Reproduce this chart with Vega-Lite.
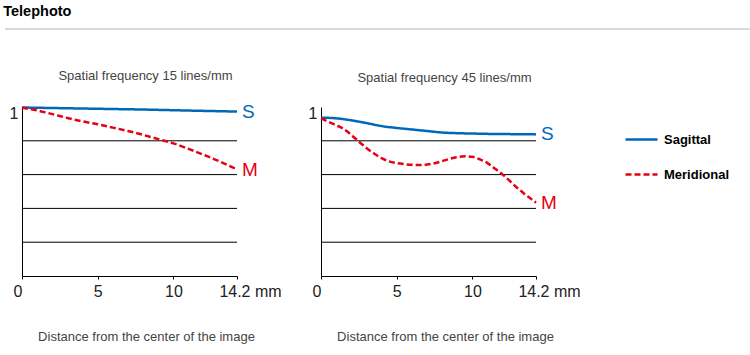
{
  "$schema": "https://vega.github.io/schema/vega-lite/v6.json",
  "background": "white",
  "padding": {"left": 3, "top": 3, "right": 5, "bottom": 5},
  "config": {
    "font": "Liberation Sans",
    "view": {"stroke": null},
    "legend": {
      "orient": "none",
      "legendX": 602,
      "legendY": 94,
      "symbolType": "stroke",
      "symbolSize": 1024,
      "symbolStrokeWidth": 2.5,
      "labelFontSize": 13,
      "labelFontWeight": "bold",
      "labelColor": "#000",
      "labelOffset": 5,
      "rowPadding": 10
    }
  },
  "datasets": {
    "f15": [
      {"series": "Sagittal", "x": 0, "y": 0.997},
      {"series": "Sagittal", "x": 2, "y": 0.994},
      {"series": "Sagittal", "x": 4, "y": 0.991},
      {"series": "Sagittal", "x": 6, "y": 0.988},
      {"series": "Sagittal", "x": 8, "y": 0.985},
      {"series": "Sagittal", "x": 10, "y": 0.981},
      {"series": "Sagittal", "x": 12, "y": 0.977},
      {"series": "Sagittal", "x": 14.2, "y": 0.973},
      {"series": "Meridional", "x": 0, "y": 0.996},
      {"series": "Meridional", "x": 1, "y": 0.98},
      {"series": "Meridional", "x": 2, "y": 0.958},
      {"series": "Meridional", "x": 3, "y": 0.935},
      {"series": "Meridional", "x": 4, "y": 0.915},
      {"series": "Meridional", "x": 5, "y": 0.898},
      {"series": "Meridional", "x": 6, "y": 0.878},
      {"series": "Meridional", "x": 7, "y": 0.858},
      {"series": "Meridional", "x": 8, "y": 0.835},
      {"series": "Meridional", "x": 9, "y": 0.81},
      {"series": "Meridional", "x": 10, "y": 0.785},
      {"series": "Meridional", "x": 11, "y": 0.752},
      {"series": "Meridional", "x": 12, "y": 0.717},
      {"series": "Meridional", "x": 13, "y": 0.68},
      {"series": "Meridional", "x": 14.2, "y": 0.63}
    ],
    "f45": [
      {"series": "Sagittal", "x": 0, "y": 0.937},
      {"series": "Sagittal", "x": 1, "y": 0.933},
      {"series": "Sagittal", "x": 2, "y": 0.921},
      {"series": "Sagittal", "x": 3, "y": 0.905},
      {"series": "Sagittal", "x": 4, "y": 0.887},
      {"series": "Sagittal", "x": 5, "y": 0.876},
      {"series": "Sagittal", "x": 6, "y": 0.867},
      {"series": "Sagittal", "x": 7, "y": 0.858},
      {"series": "Sagittal", "x": 8, "y": 0.849},
      {"series": "Sagittal", "x": 9, "y": 0.845},
      {"series": "Sagittal", "x": 10, "y": 0.843},
      {"series": "Sagittal", "x": 11, "y": 0.841},
      {"series": "Sagittal", "x": 12, "y": 0.84},
      {"series": "Sagittal", "x": 13, "y": 0.839},
      {"series": "Sagittal", "x": 14.2, "y": 0.838},
      {"series": "Meridional", "x": 0, "y": 0.933},
      {"series": "Meridional", "x": 0.8, "y": 0.9},
      {"series": "Meridional", "x": 1.5, "y": 0.87},
      {"series": "Meridional", "x": 2, "y": 0.835},
      {"series": "Meridional", "x": 2.5, "y": 0.795},
      {"series": "Meridional", "x": 3, "y": 0.758},
      {"series": "Meridional", "x": 3.5, "y": 0.725},
      {"series": "Meridional", "x": 4, "y": 0.697},
      {"series": "Meridional", "x": 4.5, "y": 0.678},
      {"series": "Meridional", "x": 5, "y": 0.668},
      {"series": "Meridional", "x": 5.5, "y": 0.662},
      {"series": "Meridional", "x": 6, "y": 0.658},
      {"series": "Meridional", "x": 6.5, "y": 0.657},
      {"series": "Meridional", "x": 7, "y": 0.66},
      {"series": "Meridional", "x": 7.5, "y": 0.667},
      {"series": "Meridional", "x": 8, "y": 0.679},
      {"series": "Meridional", "x": 8.5, "y": 0.693},
      {"series": "Meridional", "x": 9, "y": 0.703},
      {"series": "Meridional", "x": 9.5, "y": 0.708},
      {"series": "Meridional", "x": 10, "y": 0.705},
      {"series": "Meridional", "x": 10.5, "y": 0.69},
      {"series": "Meridional", "x": 11, "y": 0.668},
      {"series": "Meridional", "x": 11.5, "y": 0.635},
      {"series": "Meridional", "x": 12, "y": 0.6},
      {"series": "Meridional", "x": 12.5, "y": 0.56},
      {"series": "Meridional", "x": 13, "y": 0.518},
      {"series": "Meridional", "x": 13.5, "y": 0.482},
      {"series": "Meridional", "x": 14.2, "y": 0.434}
    ],
    "e15": [
      {"series": "Sagittal", "x": 14.2, "y": 0.973, "label": "S"},
      {"series": "Meridional", "x": 14.2, "y": 0.63, "label": "M"}
    ],
    "e45": [
      {"series": "Sagittal", "x": 14.2, "y": 0.838, "label": "S"},
      {"series": "Meridional", "x": 14.2, "y": 0.434, "label": "M"}
    ],
    "grid": [{"g": 0.2}, {"g": 0.4}, {"g": 0.6}, {"g": 0.8}],
    "header": [{"from": -17, "to": 729}]
  },
  "columns": 1,
  "align": "none",
  "spacing": 39,
  "concat": [
    {
      "width": 729,
      "height": 1,
      "title": {"text": "Telephoto", "anchor": "start", "fontSize": 14.5, "fontWeight": "bold", "color": "#000", "offset": 9, "dx": -1},
      "data": {"name": "header"},
      "mark": {"type": "rule", "color": "#cccccc", "strokeWidth": 1.5},
      "encoding": {
        "x": {"field": "from", "type": "quantitative", "axis": null, "scale": {"domain": [0, 729], "nice": false, "zero": false}},
        "x2": {"field": "to"},
        "y": {"datum": 0, "type": "quantitative", "axis": null, "scale": {"domain": [0, 1]}}
      }
    },
    {
      "hconcat": [
        {
          "width": 215,
          "height": 169,
          "title": {"text": "Spatial frequency 15 lines/mm", "fontSize": 13, "fontWeight": "normal", "color": "#444", "dx": 16, "offset": 20},
          "layer": [
            {
              "data": {"name": "grid"},
              "mark": {"type": "rule", "color": "#000", "strokeWidth": 1},
              "encoding": {"y": {"field": "g", "type": "quantitative"}}
            },
            {
              "data": {"name": "f15"},
              "mark": {"type": "line", "strokeWidth": 2.5, "interpolate": "monotone"},
              "encoding": {
                "x": {"field": "x", "type": "quantitative", "scale": {"domain": [0, 14.2], "nice": false},
                  "axis": {
                    "values": [0, 5, 10, 14.2],
                    "labelExpr": "datum.value == 14.2 ? '14.2 mm' : datum.label",
                    "labelFlush": false, "labelOverlap": false,
                    "labelAlign": {"condition": {"test": "datum.value == 0", "value": "right"}, "value": "center"},
                    "labelOffset": {"condition": {"test": "datum.value == 14.2", "value": 13}, "value": 0},
                    "labelFontSize": 16, "labelColor": "#222", "labelPadding": 4,
                    "tickSize": 3, "tickColor": "#000", "domainColor": "#000", "grid": false,
                    "title": "Distance from the center of the image",
                    "titleFontSize": 13, "titleFontWeight": "normal", "titleColor": "#444",
                    "titleX": 124, "titleY": 60, "titleBaseline": "middle"
                  }},
                "y": {"field": "y", "type": "quantitative", "scale": {"domain": [0, 1], "nice": false},
                  "axis": {
                    "values": [1],
                    "labelExpr": "'1'",
                    "labelFlush": false, "labelOverlap": false,
                    "labelFontSize": 16, "labelColor": "#222", "labelPadding": 4, "labelOffset": 6,
                    "ticks": false, "tickSize": 0, "domainColor": "#000",
                    "grid": false,
                    "title": null
                  }},
                "color": {"field": "series", "type": "nominal", "scale": {"domain": ["Sagittal", "Meridional"], "range": ["#0068b7", "#e60012"]}, "legend": {"title": null}},
                "strokeDash": {"field": "series", "type": "nominal", "scale": {"domain": ["Sagittal", "Meridional"], "range": [[1, 0], [6, 3]]}, "legend": {"title": null}}
              }
            },
            {
              "data": {"name": "e15"},
              "mark": {"type": "text", "align": "left", "baseline": "middle", "dx": 5, "fontSize": 19},
              "encoding": {
                "x": {"field": "x", "type": "quantitative"},
                "y": {"field": "y", "type": "quantitative"},
                "text": {"field": "label"},
                "color": {"field": "series", "type": "nominal", "legend": null}
              }
            }
          ]
        },
        {
          "width": 215,
          "height": 169,
          "title": {"text": "Spatial frequency 45 lines/mm", "fontSize": 13, "fontWeight": "normal", "color": "#444", "dx": 16, "offset": 20},
          "layer": [
            {
              "data": {"name": "grid"},
              "mark": {"type": "rule", "color": "#000", "strokeWidth": 1},
              "encoding": {"y": {"field": "g", "type": "quantitative"}}
            },
            {
              "data": {"name": "f45"},
              "mark": {"type": "line", "strokeWidth": 2.5, "interpolate": "monotone"},
              "encoding": {
                "x": {"field": "x", "type": "quantitative", "scale": {"domain": [0, 14.2], "nice": false},
                  "axis": {
                    "values": [0, 5, 10, 14.2],
                    "labelExpr": "datum.value == 14.2 ? '14.2 mm' : datum.label",
                    "labelFlush": false, "labelOverlap": false,
                    "labelAlign": {"condition": {"test": "datum.value == 0", "value": "right"}, "value": "center"},
                    "labelOffset": {"condition": {"test": "datum.value == 14.2", "value": 13}, "value": 0},
                    "labelFontSize": 16, "labelColor": "#222", "labelPadding": 4,
                    "tickSize": 3, "tickColor": "#000", "domainColor": "#000", "grid": false,
                    "title": "Distance from the center of the image",
                    "titleFontSize": 13, "titleFontWeight": "normal", "titleColor": "#444",
                    "titleX": 124, "titleY": 60, "titleBaseline": "middle"
                  }},
                "y": {"field": "y", "type": "quantitative", "scale": {"domain": [0, 1], "nice": false},
                  "axis": {
                    "values": [1],
                    "labelExpr": "'1'",
                    "labelFlush": false, "labelOverlap": false,
                    "labelFontSize": 16, "labelColor": "#222", "labelPadding": 4, "labelOffset": 6,
                    "ticks": false, "tickSize": 0, "domainColor": "#000",
                    "grid": false,
                    "title": null
                  }},
                "color": {"field": "series", "type": "nominal", "scale": {"domain": ["Sagittal", "Meridional"], "range": ["#0068b7", "#e60012"]}, "legend": {"title": null}},
                "strokeDash": {"field": "series", "type": "nominal", "scale": {"domain": ["Sagittal", "Meridional"], "range": [[1, 0], [6, 3]]}, "legend": {"title": null}}
              }
            },
            {
              "data": {"name": "e45"},
              "mark": {"type": "text", "align": "left", "baseline": "middle", "dx": 5, "fontSize": 19},
              "encoding": {
                "x": {"field": "x", "type": "quantitative"},
                "y": {"field": "y", "type": "quantitative"},
                "text": {"field": "label"},
                "color": {"field": "series", "type": "nominal", "legend": null}
              }
            }
          ]
        }
      ],
      "spacing": 84,
      "bounds": "flush"
    }
  ]
}
